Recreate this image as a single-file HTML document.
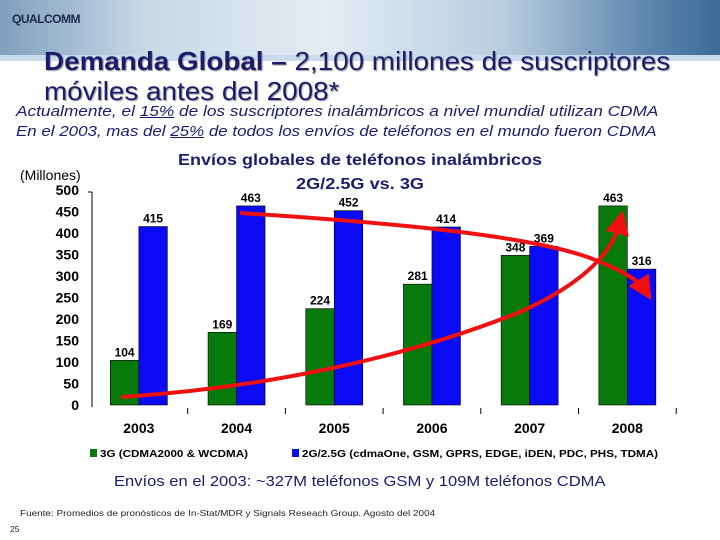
<!DOCTYPE html>
<html><head><meta charset="utf-8"><style>
body{margin:0;width:720px;height:540px;overflow:hidden;background:#fff;font-family:"Liberation Sans",sans-serif;position:relative}
.abs{position:absolute;white-space:nowrap;transform-origin:0 0}
</style></head><body>
<div class="abs" style="left:0;top:0;width:720px;height:55px;background:linear-gradient(90deg,#7f9fbf 0%,#c8d8e6 20%,#e4ecf3 45%,#b8cde0 70%,#5d86ad 90%,#3d6a96 100%)"></div>
<div class="abs" style="left:0;top:55px;width:720px;height:6px;background:#c9dcee"></div>
<div class="abs" style="left:12px;top:12px;font-size:12px;font-weight:bold;color:#1a2a4a;letter-spacing:-0.5px">QUALCOMM</div>
<div class="abs" style="left:44px;top:46px;font-size:26px;line-height:30px;color:#1c1c6e;text-shadow:1px 1px 1px #999;transform:scaleX(1.07)"><b>Demanda Global –</b> 2,100 millones de suscriptores<br>móviles antes del 2008*</div>
<div class="abs" style="left:16px;top:103px;font-size:15px;font-style:italic;color:#1c1c6e;transform:scaleX(1.15)">Actualmente, el <u>15%</u> de los suscriptores inalámbricos a nivel mundial utilizan CDMA</div>
<div class="abs" style="left:16px;top:123px;font-size:15px;font-style:italic;color:#1c1c6e;transform:scaleX(1.128)">En el 2003, mas del <u>25%</u> de todos los envíos de teléfonos en el mundo fueron CDMA</div>
<svg id="chart" class="abs" style="left:0;top:0" width="720" height="540"></svg>
<div class="abs" style="left:114px;top:473px;font-size:15px;color:#1c1c6e;transform:scaleX(1.105)">Envíos en el 2003: ~327M teléfonos GSM y 109M teléfonos CDMA</div>
<div class="abs" style="left:20px;top:508px;font-size:8.5px;color:#222;transform:scaleX(1.17)">Fuente: Promedios de pronósticos de In-Stat/MDR y Signals Reseach Group. Agosto del 2004</div>
<div class="abs" style="left:10px;top:524px;font-size:8.5px;color:#222">25</div>
<script>
const categories=["2003","2004","2005","2006","2007","2008"];
const series3G=[104,169,224,281,348,463];
const series2G=[415,463,452,414,369,316];
const yTicks=[0,50,100,150,200,250,300,350,400,450,500];
const NS="http://www.w3.org/2000/svg";
const svg=document.getElementById('chart');
const x0=90,catW=97.7,y0=405,yMax=500,plotH=215,barW=28.5;
const ys=v=>y0-v/yMax*plotH;
const xc=i=>x0+catW*(i+0.5);
function mk(tag,attrs,parent){const e=document.createElementNS(NS,tag);for(const k in attrs)e.setAttribute(k,attrs[k]);(parent||svg).appendChild(e);return e;}
function txt(x,y,s,attrs){const t=mk('text',Object.assign({x:x,y:y},attrs));t.textContent=s;return t;}
let t;
t=txt(178,165,"Envíos globales de teléfonos inalámbricos",{'font-size':'16','font-weight':'bold',fill:'#1c1c6e',textLength:364,lengthAdjust:'spacingAndGlyphs'});


t=txt(296,189,"2G/2.5G vs. 3G",{'font-size':'16','font-weight':'bold',fill:'#1c1c6e',textLength:128,lengthAdjust:'spacingAndGlyphs'});


t=txt(20,180,"(Millones)",{'font-size':'14',fill:'#000'});


yTicks.forEach(v=>{
  const l=txt(79,ys(v)+5,String(v),{'text-anchor':'end','font-size':'14','font-weight':'bold',fill:'#000'});
  
  
});
let ax=mk('line',{x1:x0+2,y1:ys(500)+2,x2:x0+2,y2:y0+2,stroke:'#000','stroke-width':1});


mk('line',{x1:x0-2,y1:ys(500)+2,x2:x0+2,y2:ys(500)+2,stroke:'#000'});
for(let i=1;i<=categories.length;i++){
  const tk=mk('line',{x1:x0+catW*i,y1:y0+3,x2:x0+catW*i,y2:y0+9,stroke:'#000'});
  
  
}
categories.forEach((c,i)=>{
  const l=txt(xc(i),433,c,{'text-anchor':'middle','font-size':'14','font-weight':'bold',fill:'#000'});
  
  
  const g=mk('rect',{x:xc(i)-barW,y:ys(series3G[i]),width:barW,height:y0-ys(series3G[i]),fill:'#087a0c',stroke:'#000','stroke-width':0.6});
  
  
  const b=mk('rect',{x:xc(i),y:ys(series2G[i]),width:barW,height:y0-ys(series2G[i]),fill:'#0a0af5',stroke:'#000','stroke-width':0.6});
  
  
  const lg=txt(xc(i)-barW/2,ys(series3G[i])-4,String(series3G[i]),{'text-anchor':'middle','font-size':'12','font-weight':'bold'});
  
  
  const lb=txt(xc(i)+barW/2,ys(series2G[i])-4,String(series2G[i]),{'text-anchor':'middle','font-size':'12','font-weight':'bold'});
  
  
});
mk('defs',{}).innerHTML='<marker id="ah" markerWidth="6" markerHeight="6" refX="3" refY="3" orient="auto"><path d="M0,0 L6,3 L0,6 z" fill="#f01010"/></marker>';
const a1=mk('path',{d:'M240,213 C380,222 540,235 600,262 C625,272 640,282 645,290',fill:'none',stroke:'#f01010','stroke-width':4,'marker-end':'url(#ah)'});


const a2=mk('path',{d:'M121,397 C260,388 400,360 520,312 C580,285 612,255 620,222',fill:'none',stroke:'#f01010','stroke-width':4,'marker-end':'url(#ah)'});


let r=mk('rect',{x:90,y:449,width:7,height:8,fill:'#087a0c'});


t=txt(100,457,"3G (CDMA2000 & WCDMA)",{'font-size':'10.5','font-weight':'bold',textLength:148,lengthAdjust:'spacingAndGlyphs'});


r=mk('rect',{x:292,y:449,width:7,height:8,fill:'#0a0af5'});


t=txt(302,457,"2G/2.5G (cdmaOne, GSM, GPRS, EDGE, iDEN, PDC, PHS, TDMA)",{'font-size':'10.5','font-weight':'bold',textLength:356,lengthAdjust:'spacingAndGlyphs'});


</script>
</body></html>
